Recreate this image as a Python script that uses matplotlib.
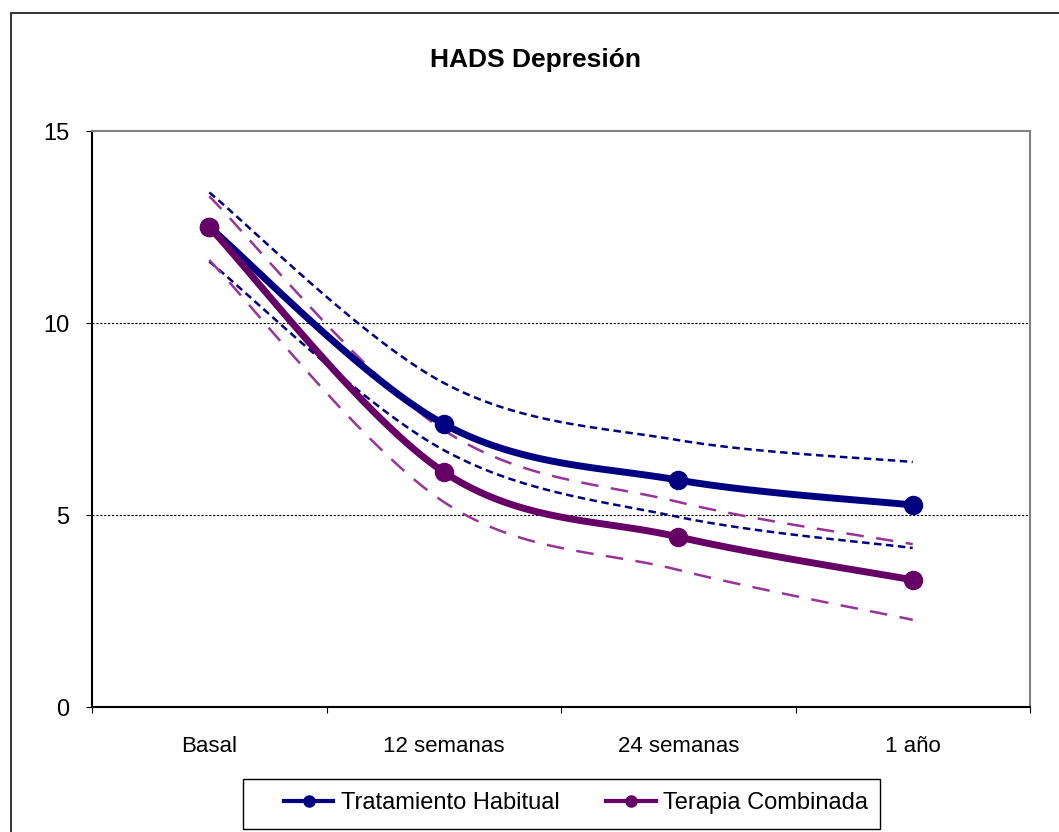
import matplotlib
matplotlib.use('Agg')
import matplotlib.pyplot as plt
import numpy as np
from matplotlib.patches import Rectangle
from matplotlib.lines import Line2D

# Datos HADS depresion por momento de evaluacion
momentos = ['Basal', '12 semanas', '24 semanas', '1 año']
habitual = [12.5, 7.37, 5.91, 5.26]
habitual_sup = [13.4, 8.44, 6.95, 6.38]
habitual_inf = [11.6, 6.69, 4.95, 4.14]
combinada = [12.5, 6.12, 4.43, 3.31]
combinada_sup = [13.3, 7.21, 5.34, 4.24]
combinada_inf = [11.64, 5.34, 3.57, 2.27]

AZUL = '#000080'
MORADO = '#660066'
MORADO_CLARO = '#993399'
FUENTE = ['Liberation Sans', 'DejaVu Sans']

PX_X = 235.0   # px por categoria
PX_Y = 38.4    # px por unidad
W, H = 1059, 832


def suavizar(valores, n=40):
    """Curva suavizada tipo Excel (Bezier cubica por tramos)"""
    pts = np.array([[i * PX_X, v * PX_Y] for i, v in enumerate(valores)])
    m = len(pts)
    xs, ys = [], []
    for i in range(m - 1):
        p0 = pts[max(i - 1, 0)]
        p1 = pts[i]
        p2 = pts[i + 1]
        p3 = pts[min(i + 2, m - 1)]
        c1 = p1 + (p2 - p0) / 6.0
        c2 = p2 - (p3 - p1) / 6.0
        t = np.linspace(0, 1, n)[:, None]
        b = ((1 - t) ** 3) * p1 + 3 * ((1 - t) ** 2) * t * c1 + 3 * (1 - t) * t ** 2 * c2 + t ** 3 * p2
        xs.append(b[:, 0])
        ys.append(b[:, 1])
    return np.concatenate(xs) / PX_X, np.concatenate(ys) / PX_Y


fig = plt.figure(figsize=(W / 100, H / 100), dpi=100)
fig.patch.set_facecolor('white')

# marco exterior del grafico
fig.patches.append(Rectangle((11 / W, -0.1), 1.2, (H - 13) / H + 0.1,
                             transform=fig.transFigure, fill=False,
                             edgecolor='#222222', linewidth=1.3))

ax = fig.add_axes([92 / W, 1 - 707 / H, 938 / W, 576 / H])
x = np.arange(len(momentos))

# bandas (lineas discontinuas)
for serie, color, estilo in [
        (habitual_sup, AZUL, (0, (3, 1.8))),
        (habitual_inf, AZUL, (0, (3, 1.8))),
        (combinada_sup, MORADO_CLARO, (0, (7, 5))),
        (combinada_inf, MORADO_CLARO, (0, (7, 5)))]:
    sx, sy = suavizar(serie)
    ax.plot(sx, sy, color=color, linestyle=estilo, linewidth=1.8, zorder=3)

# series principales
for serie, color in [(habitual, AZUL), (combinada, MORADO)]:
    sx, sy = suavizar(serie)
    ax.plot(sx, sy, color=color, linewidth=5, zorder=4, solid_capstyle='round')
    ax.plot(x, serie, 'o', color=color, markersize=13, zorder=5)

ax.set_xlim(-0.5, 3.5)
ax.set_ylim(0, 15)
ax.set_yticks([0, 5, 10, 15])
ax.set_xticks([-0.5, 0.5, 1.5, 2.5, 3.5])
ax.set_xticklabels([])
ax.set_xticks(x, minor=True)
ax.set_xticklabels(momentos, minor=True, fontsize=16, family=FUENTE)
ax.tick_params(axis='x', which='minor', length=0, pad=21)
ax.tick_params(axis='x', which='major', length=4.5, direction='out', color='black')
ax.tick_params(axis='y', length=4.5, direction='out', labelsize=17, pad=12)
for lab in ax.get_yticklabels():
    lab.set_family(FUENTE)

for v in [5, 10]:
    ax.axhline(v, color='black', linestyle=(0, (2, 1.5)), linewidth=0.8, zorder=1)

ax.spines['left'].set_color('black')
ax.spines['bottom'].set_color('black')
ax.spines['left'].set_linewidth(1.5)
ax.spines['bottom'].set_linewidth(1.5)
ax.spines['top'].set_color('#808080')
ax.spines['right'].set_color('#808080')
ax.spines['top'].set_linewidth(1.5)
ax.spines['right'].set_linewidth(1.5)

fig.text(535 / W, 1 - 60 / H, 'HADS Depresión', ha='center', va='center',
         fontsize=19, fontweight='bold', family=FUENTE)

# leyenda con su caja aparte
fig.patches.append(Rectangle((243 / W, 1 - 829 / H), 637 / W, 50 / H,
                             transform=fig.transFigure, fill=False,
                             edgecolor='black', linewidth=1.0))
manejadores = [Line2D([0], [0], color=AZUL, linewidth=3, marker='o', markersize=8),
               Line2D([0], [0], color=MORADO, linewidth=3, marker='o', markersize=8)]
fig.legend(manejadores, ['Tratamiento Habitual', 'Terapia Combinada'],
           loc='center', bbox_to_anchor=(576 / W, 1 - 803 / H), ncol=2,
           frameon=False, handlelength=2.1, columnspacing=2.0,
           handletextpad=0.3, prop={'family': FUENTE, 'size': 17})

plt.savefig('out.png', dpi=100)
plt.close()
